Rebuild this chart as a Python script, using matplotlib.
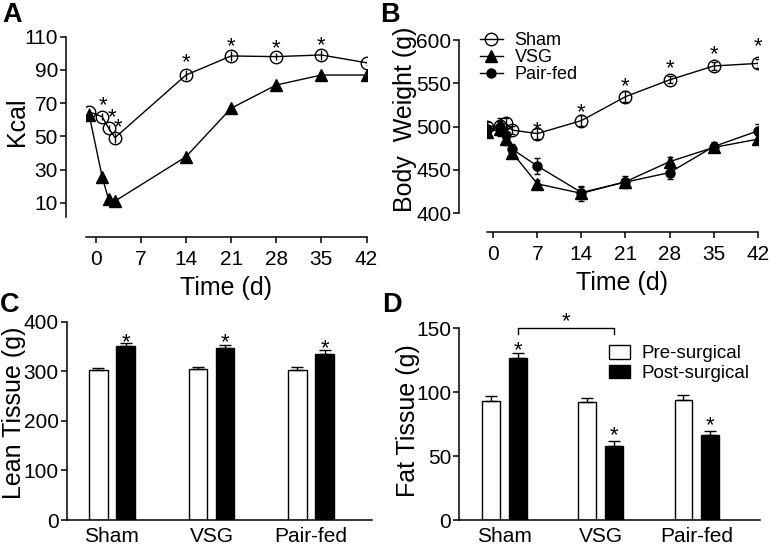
import numpy as np
import matplotlib
matplotlib.use('Agg')
import matplotlib.pyplot as plt

plt.rcParams['font.family'] = ['Liberation Sans', 'DejaVu Sans']

# ---- data ----
days_A = [-1, 1, 2, 3, 14, 21, 28, 35, 42]
kcal_sham = [64.8, 61.8, 55, 49.2, 86.9, 98.4, 98, 99, 94.3]
kcal_sham_err = [2, 2, 2, 3, 3, 3, 2, 3, 2]
kcal_vsg = [62.8, 25.7, 12, 11, 37.7, 66.9, 80.9, 86.9, 86.9]
kcal_vsg_err = [2, 2, 1, 1, 2, 2, 2, 2, 2]
stars_A = [(1.2, 72.9), (2.6, 65.8), (3.5, 59.8), (14, 99), (21, 108.4), (28, 107), (35, 109)]

days_B = [-1, 1, 2, 3, 7, 14, 21, 28, 35, 42]
bw_sham = [500, 501, 504, 496, 492, 507, 534.6, 554, 570, 573]
bw_sham_err = [5, 6, 6, 5, 6, 6, 6, 4, 5, 5]
bw_vsg = [494, 497, 486, 470, 434, 423, 436.5, 459.6, 476, 485.5]
bw_vsg_err = [5, 8, 7, 6, 5, 9, 7, 5, 5, 5]
bw_pf = [497, 500, 490, 474, 454.6, 424, 436, 447, 477, 495]
bw_pf_err = [5, 10, 8, 6, 9, 6, 5, 7, 5, 8]
stars_B = [(7, 504), (14, 524), (21, 554), (28, 575), (35, 591.7), (42, 601)]

groups = ['Sham', 'VSG', 'Pair-fed']
lean_pre = [302.5, 304, 302.5]
lean_pre_err = [4.5, 4.6, 6.7]
lean_post = [351, 346.3, 334.8]
lean_post_err = [5.4, 6, 8]
stars_C = [373, 373, 360]

fat_pre = [93, 92.4, 93.9]
fat_pre_err = [4, 3, 4]
fat_post = [126.5, 57.9, 66.7]
fat_post_err = [4.5, 4, 3]
stars_D = [138.3, 71.7, 79.6]

W, H = 769, 546
fig = plt.figure(figsize=(W / 100, H / 100), dpi=100)
TICK_FS = 15
LAB_FS = 18


def add_ax(box):
    x0, y0, x1, y1 = box
    return fig.add_axes([x0 / W, 1 - y1 / H, (x1 - x0) / W, (y1 - y0) / H])


def px2ax(box, px, py):
    x0, y0, x1, y1 = box
    return (px - x0) / (x1 - x0), (y1 - py) / (y1 - y0)


def style(ax, out_left=0, out_bottom=0, xtick_len=4.3):
    for s in ['top', 'right']:
        ax.spines[s].set_visible(False)
    for s in ['left', 'bottom']:
        ax.spines[s].set_linewidth(1.1)
    ax.spines['left'].set_position(('outward', out_left))
    ax.spines['bottom'].set_position(('outward', out_bottom))
    ax.tick_params(axis='y', direction='out', length=4.3, width=1.1, labelsize=TICK_FS, pad=1.5)
    ax.tick_params(axis='x', direction='out', length=xtick_len, width=1.1, labelsize=TICK_FS, pad=5)


def star(ax, x, y):
    ax.annotate('*', (x, y), xytext=(0, -5.2), textcoords='offset points',
                ha='center', va='center', fontsize=16, annotation_clip=False)


def ylab(ax, box, text, px, py):
    ax.set_ylabel(text, fontsize=LAB_FS, va='center')
    ax.yaxis.set_label_coords(*px2ax(box, px, py))


# ---- A ----
boxA = (86, 36.7, 366.5, 216.7)
axA = add_ax(boxA)
axA.errorbar(days_A, kcal_sham, yerr=kcal_sham_err, fmt='none', ecolor='k', elinewidth=1, capsize=0)
axA.plot(days_A, kcal_sham, color='k', lw=1, marker='o', ms=9, mfc='none', mec='k', mew=1)
axA.plot(days_A, kcal_vsg, color='k', lw=1, marker='^', ms=9, mfc='k', mec='k')
for x, y in stars_A:
    star(axA, x, y)
axA.set_xlim(-1.5, 42)
axA.set_ylim(1.6, 110)
axA.set_xticks(range(0, 43, 7))
axA.set_yticks(range(10, 111, 20))
style(axA, out_left=14.4, out_bottom=14.4)
axA.set_xlabel('Time (d)', fontsize=LAB_FS, labelpad=5)
ylab(axA, boxA, 'Kcal', 16.5, 122)

# ---- B ----
boxB = (487, 40, 757.7, 213.3)
axB = add_ax(boxB)
axB.errorbar(days_B, bw_sham, yerr=bw_sham_err, fmt='none', ecolor='k', elinewidth=1, capsize=2)
axB.errorbar(days_B, bw_pf, yerr=bw_pf_err, fmt='none', ecolor='k', elinewidth=1, capsize=2)
axB.errorbar(days_B, bw_vsg, yerr=bw_vsg_err, fmt='none', ecolor='k', elinewidth=1, capsize=2)
l1, = axB.plot(days_B, bw_sham, color='k', lw=1, marker='o', ms=9, mfc='none', mec='k', mew=1, label='Sham')
l3, = axB.plot(days_B, bw_pf, color='k', lw=1, marker='o', ms=6.5, mfc='k', mec='k', label='Pair-fed', zorder=3)
l2, = axB.plot(days_B, bw_vsg, color='k', lw=1, marker='^', ms=9, mfc='k', mec='k', label='VSG', zorder=4)
for x, y in stars_B:
    star(axB, x, y)
axB.set_xlim(-1, 42)
axB.set_ylim(400, 600)
axB.set_xticks(range(0, 43, 7))
axB.set_yticks(range(400, 601, 50))
style(axB, out_left=20, out_bottom=13.5)
axB.set_xlabel('Time (d)', fontsize=LAB_FS, labelpad=5)
ylab(axB, boxB, 'Body  Weight (g)', 405, 119)
axB.legend([l1, l2, l3], ['Sham', 'VSG', 'Pair-fed'], loc='upper left',
           bbox_to_anchor=px2ax(boxB, 480, 32), frameon=False, fontsize=13,
           handlelength=1.25, handletextpad=0.66, labelspacing=0.0,
           borderpad=0, borderaxespad=0)

# ---- C ----
xg = np.arange(len(groups))
bw, off = 0.185, 0.137
boxC = (66.7, 321.7, 371.7, 520)
axC = add_ax(boxC)
axC.bar(xg - off, lean_pre, bw, color='white', edgecolor='k', lw=1)
axC.bar(xg + off, lean_post, bw, color='k', edgecolor='k', lw=1)
axC.errorbar(xg - off, lean_pre, yerr=[np.zeros(3), lean_pre_err], fmt='none', ecolor='k', elinewidth=1, capsize=4.3, capthick=1)
axC.errorbar(xg + off, lean_post, yerr=[np.zeros(3), lean_post_err], fmt='none', ecolor='k', elinewidth=1, capsize=4.3, capthick=1)
for i, y in enumerate(stars_C):
    star(axC, xg[i] + off, y)
axC.set_xlim(-0.455, 2.61)
axC.set_ylim(0, 400)
axC.set_yticks(range(0, 401, 100))
axC.set_xticks(xg)
axC.set_xticklabels(groups)
style(axC, xtick_len=0)
ylab(axC, boxC, 'Lean Tissue (g)', 14, 413)

# ---- D ----
boxD = (459.3, 328.3, 760, 520)
axD = add_ax(boxD)
axD.bar(xg - off, fat_pre, bw, color='white', edgecolor='k', lw=1, label='Pre-surgical')
axD.bar(xg + off, fat_post, bw, color='k', edgecolor='k', lw=1, label='Post-surgical')
axD.errorbar(xg - off, fat_pre, yerr=[np.zeros(3), fat_pre_err], fmt='none', ecolor='k', elinewidth=1, capsize=4.3, capthick=1)
axD.errorbar(xg + off, fat_post, yerr=[np.zeros(3), fat_post_err], fmt='none', ecolor='k', elinewidth=1, capsize=4.3, capthick=1)
for i, y in enumerate(stars_D):
    star(axD, xg[i] + off, y)
bx0, bx1 = xg[0] + off, xg[1] + off
axD.plot([bx0, bx0, bx1, bx1], [145.5, 150, 150, 145.5], color='k', lw=1, clip_on=False)
star(axD, (bx0 + bx1) / 2, 161.2)
axD.set_xlim(-0.47, 2.66)
axD.set_ylim(0, 150)
axD.set_yticks(range(0, 151, 50))
axD.set_xticks(xg)
axD.set_xticklabels(groups)
style(axD, xtick_len=0)
ylab(axD, boxD, 'Fat Tissue (g)', 407.5, 421)
axD.legend(loc='upper left', bbox_to_anchor=px2ax(boxD, 609.3, 345), frameon=False,
           fontsize=13.5, handlelength=1.12, handleheight=0.75, handletextpad=0.59,
           labelspacing=0.12, borderpad=0, borderaxespad=0)

# ---- panel letters ----
for lab, px, py in [('A', 2, 2), ('B', 380, 2), ('C', 0, 292), ('D', 382, 292)]:
    fig.text(px / W, 1 - py / H, lab, fontsize=19.5, fontweight='bold', ha='left', va='top')

fig.savefig('out.png', dpi=100)
